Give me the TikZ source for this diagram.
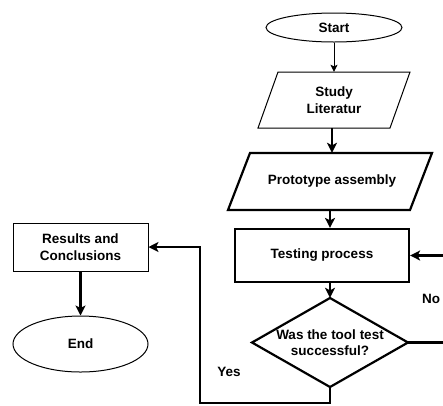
\documentclass[tikz,border=0pt]{standalone}
\usepackage{fontspec}
\setmainfont{Liberation Sans}
\usetikzlibrary{shapes.geometric,arrows.meta}
\begin{document}
\begin{tikzpicture}[x=1pt,y=-1pt,
  every node/.style={font=\bfseries\fontsize{13.5}{16.5}\selectfont, align=center, inner sep=0pt},
  thinln/.style={line width=1pt},
  thickln/.style={line width=2.2pt},
  arr/.style={-{Stealth[length=10pt,width=10pt,inset=2.5pt]}},
  arrs/.style={-{Stealth[length=7pt,width=7pt,inset=1.5pt]}}
]
\useasboundingbox (0,0) rectangle (443,405);
\clip (0,0) rectangle (443,405);

% shapes
\node[ellipse, draw, thinln, minimum width=136pt, minimum height=29pt] (start) at (334,27.5) {Start};
\draw[thinln] (278,72) -- (410,72) -- (390,128) -- (258,128) -- cycle;
\node[minimum height=56pt, minimum width=100pt] (study) at (334,100) {Study\\Literatur};
\draw[thickln] (250,153) -- (432,153) -- (410,210) -- (228,210) -- cycle;
\node[minimum height=57pt, minimum width=120pt] (proto) at (332,181.5) {Prototype assembly};
\node[draw, thickln, minimum width=174pt, minimum height=53pt] (test) at (322,255.5) {Testing process};
\draw[thickln] (330,298) -- (408,342.5) -- (330,387) -- (252,342.5) -- cycle;
\node[minimum width=156pt, minimum height=89pt] (dec) at (330,342.5) {Was the tool test\\successful?};
\node[draw, thinln, minimum width=135pt, minimum height=48pt] (res) at (80.5,247) {Results and\\Conclusions};
\node[ellipse, draw, thinln, minimum width=135pt, minimum height=56pt] (end) at (80.5,344) {End};

% labels
\node (yes) at (229,372) {Yes};
\node (no) at (431,299) {No};

% connectors
\coordinate (yb) at (200,403);
\coordinate (nb) at (452,342.5);
\draw[thinln, arrs] (start.south) -- (study.north);
\draw[thickln, arr] (proto.north |- study.south) -- (proto.north);
\draw[thickln, arr] (dec.north |- proto.south) -- (dec.north |- test.north);
\draw[thickln, arr] (dec.north |- test.south) -- (dec.north);
\draw[thickln, arr] (dec.south) |- (yb) |- (res.east);
\draw[thickln, arr] (dec.east) -- (nb) |- (test.east);
\draw[thickln, arr] (res.south) -- (end.north);
\end{tikzpicture}
\end{document}
